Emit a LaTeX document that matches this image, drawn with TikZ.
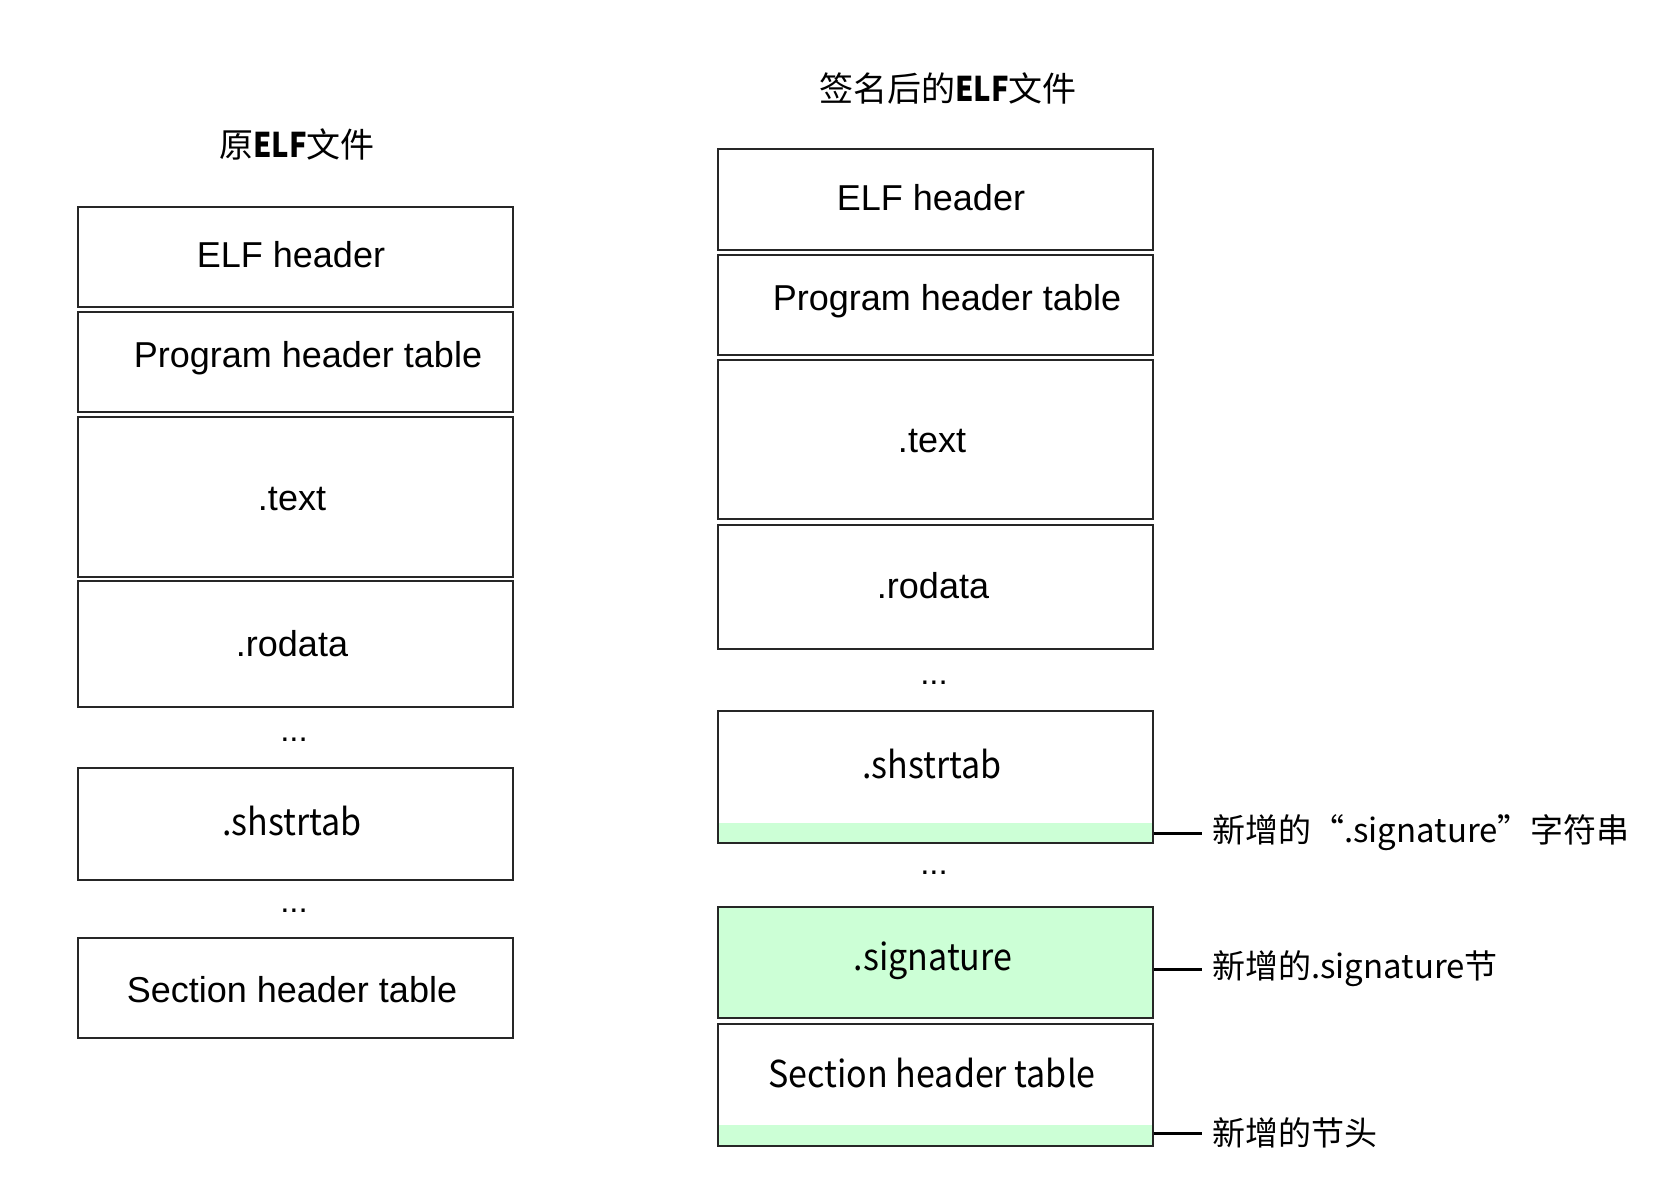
\documentclass[tikz,border=0pt]{standalone}
\usepackage{fontspec}
\setmainfont{Liberation Sans}
\newfontfamily\cjk{Noto Sans CJK SC}
\definecolor{siggreen}{RGB}{204,255,214}
\newcommand{\narrow}[1]{\scalebox{0.92}[1]{#1}}
\newcommand{\elfb}{\scalebox{0.86}[1]{\textbf{ELF}}}
\tikzset{
  cell/.style={draw=black!85, line width=1.2pt, inner sep=0pt, minimum width=435pt},
  lat/.style={anchor=base, inner sep=0pt, font=\fontsize{36}{40}\selectfont},
  cj/.style={anchor=base, inner sep=0pt, font=\cjk\fontsize{37}{42}\selectfont},
  ttl/.style={anchor=base, inner sep=0pt, font=\cjk\fontsize{34}{40}\selectfont},
  lbl/.style={anchor=west, inner sep=0pt, font=\cjk\fontsize{33}{40}\selectfont},
  dots/.style={anchor=base, inner sep=0pt, font=\fontsize{33}{40}\selectfont},
  conn/.style={line width=3pt, black},
  strip/.style={path picture={\fill[siggreen] (path picture bounding box.south west) rectangle ([yshift=#1]path picture bounding box.south east);}}
}
\begin{document}
\begin{tikzpicture}[x=1pt,y=-1pt]
\useasboundingbox[fill=white] (0,0) rectangle (1672,1184);

% titles
\node[ttl] (t1) at (297,157) {原\elfb 文件};
\node[ttl] (t2) at (948,101) {签名后的\elfb 文件};

% left column
\node[cell, minimum height=100pt] (l1) at (295.5,257) {};
\node[cell, minimum height=100pt] (l2) at (295.5,362) {};
\node[cell, minimum height=160pt] (l3) at (295.5,497) {};
\node[cell, minimum height=126pt] (l4) at (295.5,644) {};
\node[cell, minimum height=112pt] (l5) at (295.5,824) {};
\node[cell, minimum height=100pt] (l6) at (295.5,988) {};

\node[lat] (l1t) at (291,267) {ELF header};
\node[lat] (l2t) at (308,367) {Program header table};
\node[lat] (l3t) at (292,510) {.text};
\node[lat] (l4t) at (292,656) {.rodata};
\node[dots] (ld1) at (294,741) {...};
\node[cj] (l5t) at (292,835) {\narrow{.shstrtab}};
\node[dots] (ld2) at (294,912) {...};
\node[lat] (l6t) at (292,1002) {Section header table};

% right column
\node[cell, minimum height=101pt] (r1) at (935.5,199.5) {};
\node[cell, minimum height=100pt] (r2) at (935.5,305) {};
\node[cell, minimum height=159pt] (r3) at (935.5,439.5) {};
\node[cell, minimum height=124pt] (r4) at (935.5,587) {};
\node[cell, minimum height=132pt, strip=20pt] (r5) at (935.5,777) {};
\node[cell, minimum height=111pt, fill=siggreen] (r6) at (935.5,962.5) {};
\node[cell, minimum height=122pt, strip=21pt] (r7) at (935.5,1085) {};

\node[lat] (r1t) at (931,210) {ELF header};
\node[lat] (r2t) at (947,310) {Program header table};
\node[lat] (r3t) at (932,452) {.text};
\node[lat] (r4t) at (933,598) {.rodata};
\node[dots] (rd1) at (934,684) {...};
\node[cj] (r5t) at (932,778) {\narrow{.shstrtab}};
\node[dots] (rd2) at (934,874) {...};
\node[cj] (r6t) at (933,970) {\narrow{.signature}};
\node[cj] (r7t) at (932,1087) {\narrow{Section header table}};

% annotations
\node[lbl] (a1) at (1212,833) {新增的“.signature”字符串};
\node[lbl] (a2) at (1212,969) {新增的.signature节};
\node[lbl] (a3) at (1212,1133) {新增的节头};

\draw[conn] (r5.east |- a1.west) -- ([xshift=-10pt]a1.west);
\draw[conn] (r6.east |- a2.west) -- ([xshift=-10pt]a2.west);
\draw[conn] (r7.east |- a3.west) -- ([xshift=-10pt]a3.west);
\end{tikzpicture}
\end{document}
